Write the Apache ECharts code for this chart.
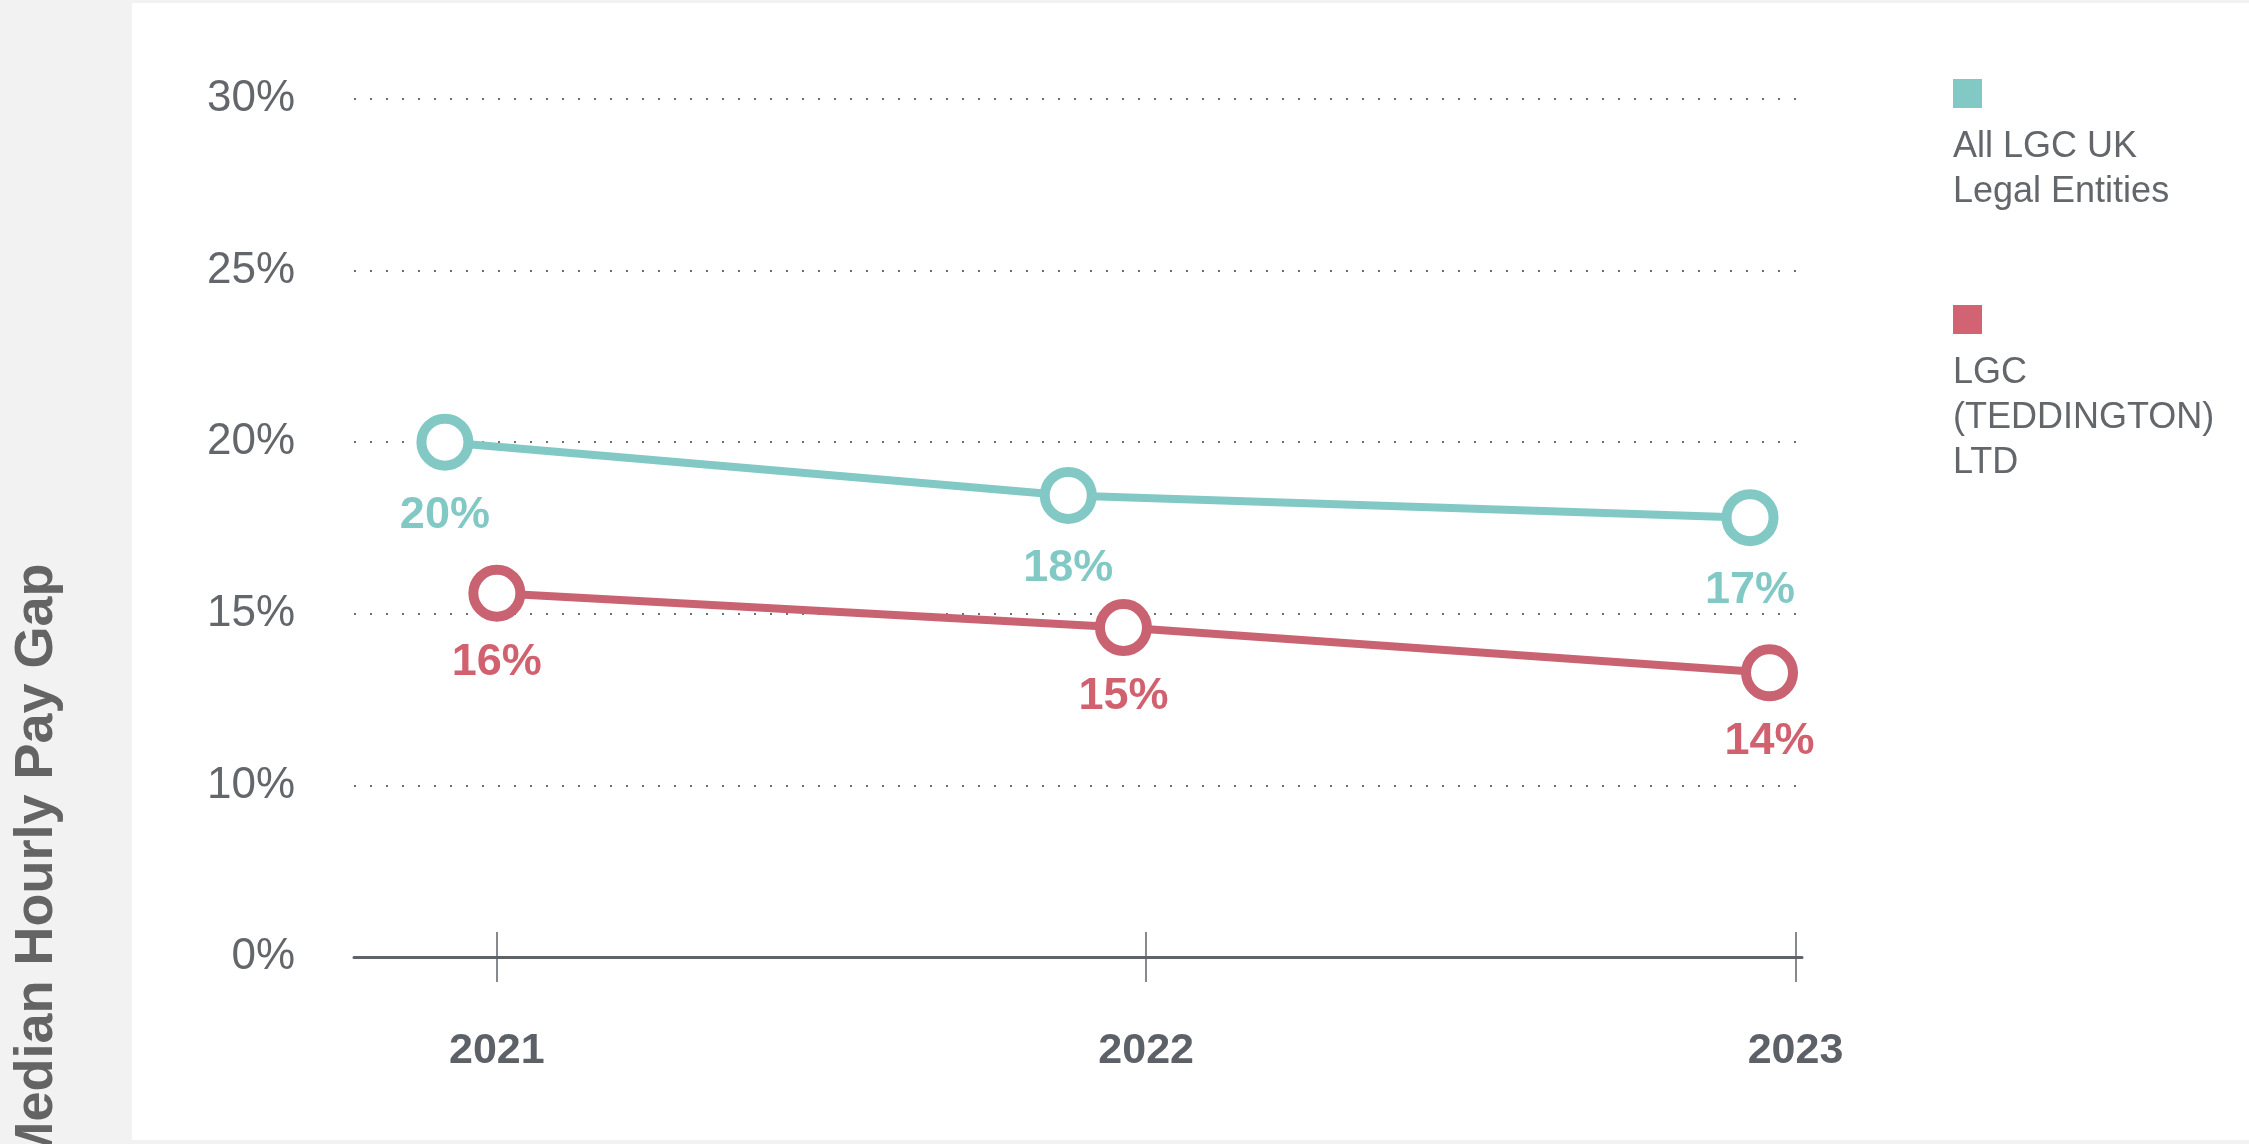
<!DOCTYPE html>
<html>
<head>
  <meta charset="utf-8">
  <title>Median Hourly Pay Gap</title>
  <script src="https://cdn.jsdelivr.net/npm/echarts@6.0.0/dist/echarts.min.js"></script>
  <style>
    html, body { margin: 0; padding: 0; background: #f2f2f2; }
    #main { width: 2249px; height: 1144px; }
  </style>
</head>
<body>
  <div id="main"></div>
  <script>
    // axis ticks / labels
    var xTickValues = [2021, 2022, 2023];
    var xTickLabels = ['2021', '2022', '2023'];
    // the bottom tick is drawn as "0%" (the chart skips 0-10)
    var yTickValues = [5, 10, 15, 20, 25, 30];
    var yTickLabels = ['0%', '10%', '15%', '20%', '25%', '30%'];

    var seriesNames = ['All LGC UK Legal Entities', 'LGC (TEDDINGTON) LTD'];
    var legendLines = [['All LGC UK', 'Legal Entities'], ['LGC', '(TEDDINGTON)', 'LTD']];

    // points are not exactly on the year ticks in the original, x read as fractional years
    var allUkX = [2020.92, 2021.88, 2022.93];
    var allUkY = [20.0, 18.45, 17.8];
    var allUkLabels = ['20%', '18%', '17%'];

    var teddX = [2021.0, 2021.965, 2022.96];
    var teddY = [15.6, 14.6, 13.28];
    var teddLabels = ['16%', '15%', '14%'];

    var font = '"Liberation Sans", Arial, sans-serif';
    var colors = { teal: '#82c9c5', red: '#c96372', redText: '#d2616f', redKey: '#d16372', text: '#63666a', axis: '#5f6368' };

    function pairs(xs, ys) {
      return xs.map(function (x, i) { return [x, ys[i]]; });
    }

    var myChart = echarts.init(document.getElementById('main'));

    var option = {
      backgroundColor: '#f2f2f2',
      animation: false,
      graphic: [
        {
          type: 'rect', z: -10, silent: true,
          shape: { x: 132, y: 3, width: 2117, height: 1137 },
          style: { fill: '#ffffff' }
        },
        {
          type: 'text', x: 37, y: 865, rotation: Math.PI / 2,
          style: {
            text: 'Median Hourly Pay Gap',
            fill: '#646464',
            font: 'bold 54px ' + font,
            align: 'center',
            verticalAlign: 'middle'
          }
        }
      ],
      legend: {
        orient: 'vertical',
        left: 1948,
        top: 79,
        padding: 0,
        itemGap: 95,
        itemWidth: 0,
        itemHeight: 0,
        icon: 'none',
        data: seriesNames,
        formatter: function (name) {
          var i = seriesNames.indexOf(name);
          return '{sq' + i + '| }\n' + legendLines[i].map(function (t) { return '{t|' + t + '}'; }).join('\n');
        },
        textStyle: {
          rich: {
            sq0: { width: 29, height: 29, lineHeight: 62, backgroundColor: colors.teal },
            sq1: { width: 29, height: 29, lineHeight: 62, backgroundColor: colors.redKey },
            t: { fontSize: 36, lineHeight: 45, color: colors.text, fontFamily: font }
          }
        }
      },
      grid: {
        left: 354,
        right: 447,
        top: 99,
        bottom: 187,
        outerBoundsMode: 'none'
      },
      xAxis: [
        {
          type: 'value',
          position: 'bottom',
          min: 2020.78,
          max: 2023.01,
          axisLine: { show: true, onZero: false, lineStyle: { color: colors.axis, width: 3 } },
          axisTick: { show: true, customValues: xTickValues, length: 25, lineStyle: { color: colors.axis, width: 1.5 } },
          axisLabel: {
            customValues: xTickValues,
            formatter: function (v) { return xTickLabels[xTickValues.indexOf(v)]; },
            margin: 73,
            fontSize: 43,
            fontWeight: 'bold',
            color: '#5c6168',
            fontFamily: font
          },
          splitLine: { show: false }
        },
        {
          // upper half of the crossing ticks
          type: 'value',
          position: 'bottom',
          min: 2020.78,
          max: 2023.01,
          axisLine: { show: false, onZero: false },
          axisTick: { show: true, inside: true, customValues: xTickValues, length: 25, lineStyle: { color: colors.axis, width: 1.5 } },
          axisLabel: { show: false },
          splitLine: { show: false }
        }
      ],
      yAxis: {
        type: 'value',
        min: 5,
        max: 30,
        interval: 5,
        axisLine: { show: false },
        axisTick: { show: false },
        axisLabel: {
          formatter: function (v) { return yTickLabels[yTickValues.indexOf(v)]; },
          margin: 59,
          fontSize: 44,
          color: colors.text,
          fontFamily: font
        },
        splitLine: { lineStyle: { color: '#6b6e72', width: 2, type: [2, 14] } }
      },
      series: [
        {
          name: seriesNames[0],
          type: 'line',
          data: pairs(allUkX, allUkY),
          symbol: 'circle',
          symbolSize: 47,
          lineStyle: { color: colors.teal, width: 8 },
          itemStyle: { color: '#ffffff', borderColor: colors.teal, borderWidth: 10 },
          label: {
            show: true,
            position: 'bottom',
            distance: 22,
            formatter: function (p) { return allUkLabels[p.dataIndex]; },
            color: colors.teal,
            fontSize: 45,
            fontWeight: 'bold',
            fontFamily: font
          },
          emphasis: { disabled: true }
        },
        {
          name: seriesNames[1],
          type: 'line',
          data: pairs(teddX, teddY),
          symbol: 'circle',
          symbolSize: 47,
          lineStyle: { color: colors.red, width: 8 },
          itemStyle: { color: '#ffffff', borderColor: colors.red, borderWidth: 10 },
          label: {
            show: true,
            position: 'bottom',
            distance: 18,
            formatter: function (p) { return teddLabels[p.dataIndex]; },
            color: colors.redText,
            fontSize: 45,
            fontWeight: 'bold',
            fontFamily: font
          },
          emphasis: { disabled: true }
        }
      ]
    };

    myChart.setOption(option);
  </script>
</body>
</html>
